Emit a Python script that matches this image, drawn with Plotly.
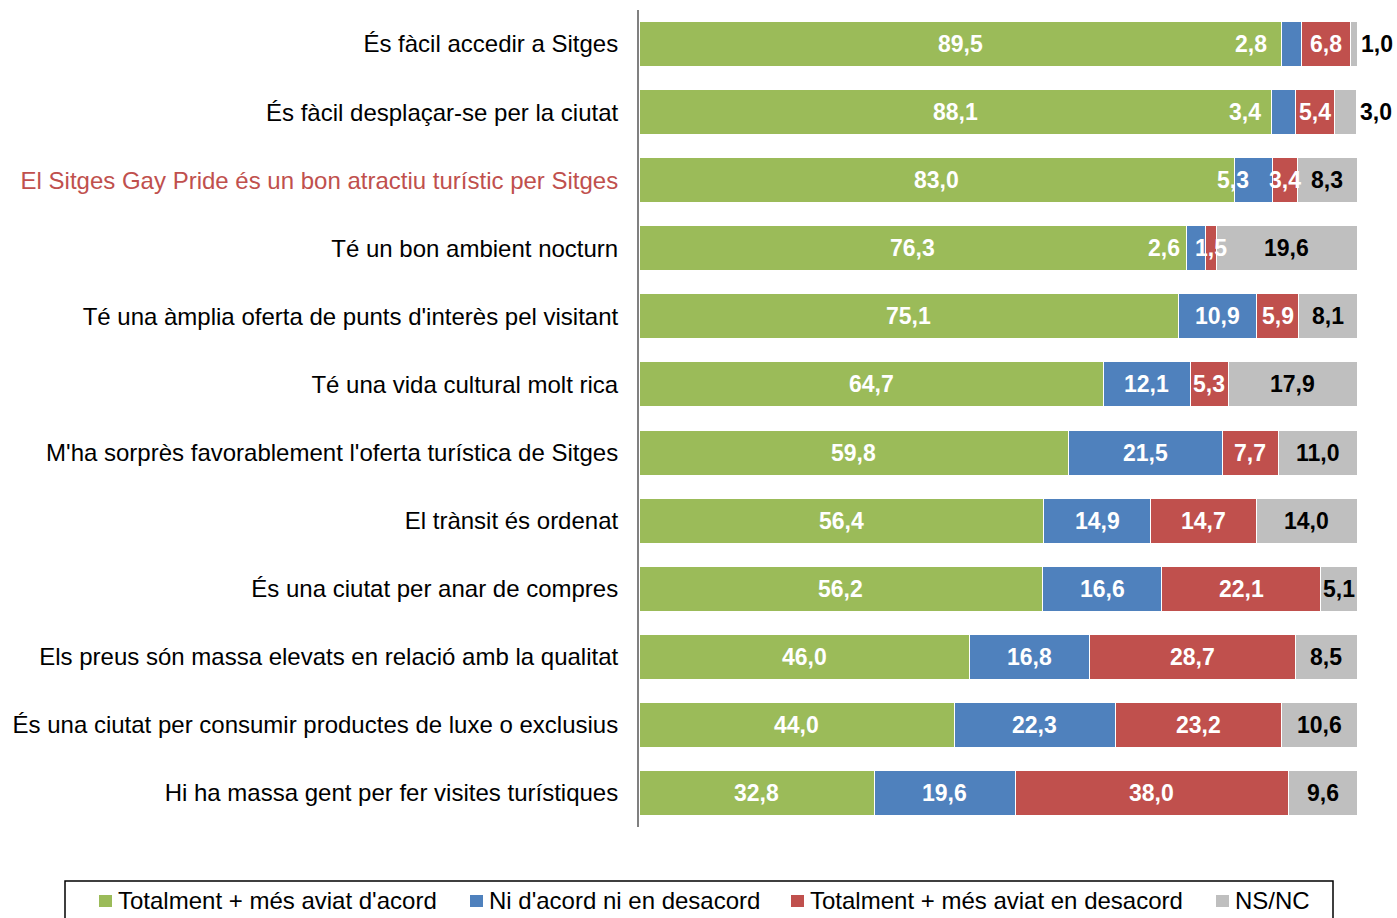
import plotly.graph_objects as go

categories = [
    "És fàcil accedir a Sitges",
    "És fàcil desplaçar-se per la ciutat",
    "El Sitges Gay Pride és un bon atractiu turístic per Sitges",
    "Té un bon ambient nocturn",
    "Té una àmplia oferta de punts d'interès pel visitant",
    "Té una vida cultural molt rica",
    "M'ha sorprès favorablement l'oferta turística de Sitges",
    "El trànsit és ordenat",
    "És una ciutat per anar de compres",
    "Els preus són massa elevats en relació amb la qualitat",
    "És una ciutat per consumir productes de luxe o exclusius",
    "Hi ha massa gent per fer visites turístiques",
]
highlight = "El Sitges Gay Pride és un bon atractiu turístic per Sitges"

acord = [89.5, 88.1, 83.0, 76.3, 75.1, 64.7, 59.8, 56.4, 56.2, 46.0, 44.0, 32.8]
neutral = [2.8, 3.4, 5.3, 2.6, 10.9, 12.1, 21.5, 14.9, 16.6, 16.8, 22.3, 19.6]
desacord = [6.8, 5.4, 3.4, 1.5, 5.9, 5.3, 7.7, 14.7, 22.1, 28.7, 23.2, 38.0]
nsnc = [1.0, 3.0, 8.3, 19.6, 8.1, 17.9, 11.0, 14.0, 5.1, 8.5, 10.6, 9.6]

series_names = [
    "Totalment + més aviat d'acord",
    "Ni d'acord ni en desacord",
    "Totalment + més aviat en desacord",
    "NS/NC",
]
colors = ["#9bbb59", "#4f81bd", "#c0504d", "#bfbfbf"]
label_colors = ["white", "white", "white", "black"]

# label nudges (px) for the thin segments, as in the original
shifts = {(0, 1): -41, (0, 3): 23, (1, 1): -39, (1, 3): 30, (2, 1): -21, (3, 1): -32}

series = [acord, neutral, desacord, nsnc]

fig = go.Figure()
for name, vals, col in zip(series_names, series, colors):
    fig.add_trace(go.Bar(
        y=categories, x=vals, name=name, orientation="h",
        marker=dict(color=col, line=dict(color="white", width=1)),
        showlegend=False, hoverinfo="x+y",
    ))

# value labels
annotations = []
for i, cat in enumerate(categories):
    start = 0.0
    for s, vals in enumerate(series):
        v = vals[i]
        annotations.append(dict(
            x=start + v / 2, y=cat, xref="x", yref="y",
            text=f"<b>{v:.1f}</b>".replace(".", ","), showarrow=False,
            xshift=shifts.get((i, s), 0),
            font=dict(family="Liberation Sans, Arial", size=23, color=label_colors[s]),
        ))
        start += v

# manual legend, boxed like the Excel original (pixel -> paper coords)
def px_x(p):
    return (p - 639) / 718


def px_y(p):
    return (827 - p) / 817


legend_x = [99, 470, 791, 1216]
for name, col, px in zip(series_names, colors, legend_x):
    fig.add_shape(type="rect", xref="paper", yref="paper",
                  x0=px_x(px), x1=px_x(px + 13), y0=px_y(895), y1=px_y(907),
                  fillcolor=col, line=dict(width=0))
    annotations.append(dict(
        x=px_x(px + 17), y=px_y(900), xref="paper", yref="paper",
        text=name, showarrow=False, xanchor="left", yanchor="middle",
        font=dict(family="Liberation Sans, Arial", size=24, color="black"),
    ))
fig.add_shape(type="rect", xref="paper", yref="paper",
              x0=px_x(65), x1=px_x(1333), y0=px_y(881), y1=px_y(930),
              line=dict(color="black", width=1.5), fillcolor="rgba(0,0,0,0)")

ticktext = [f"<span style='color:#c0504d'>{c}</span>" if c == highlight else c
            for c in categories]

fig.update_layout(
    barmode="stack",
    width=1397, height=918,
    margin=dict(l=639, r=40, t=10, b=91),
    paper_bgcolor="white", plot_bgcolor="white",
    bargap=0.34,
    annotations=annotations,
    font=dict(family="Liberation Sans, Arial", color="black"),
    xaxis=dict(range=[0, 100], visible=False, fixedrange=True),
    yaxis=dict(
        autorange="reversed", tickvals=categories, ticktext=ticktext,
        tickfont=dict(size=24, color="black"),
        showline=True, linecolor="#808080", linewidth=2,
        ticks="", ticklabelstandoff=14, showgrid=False, fixedrange=True,
    ),
)

fig.write_html("out.html", config={"displayModeBar": False},
               post_script="document.body.style.margin='0';")
